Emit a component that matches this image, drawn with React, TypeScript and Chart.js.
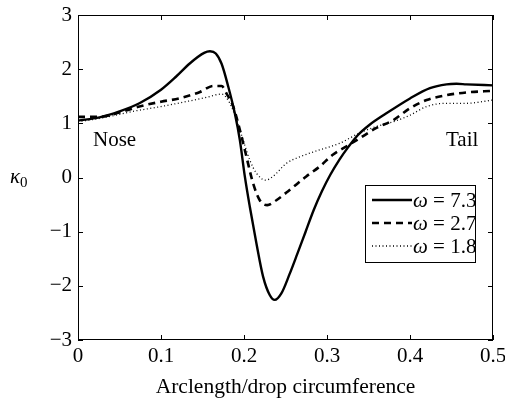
import React, { useEffect, useRef } from "react";
import { Chart, registerables } from "chart.js";

Chart.register(...registerables);

// ω = 7.3 (solid)
const xSolid = [0, 0.026, 0.05, 0.074, 0.1, 0.118, 0.135, 0.152, 0.159, 0.166, 0.173, 0.181, 0.189, 0.195, 0.201, 0.207, 0.215, 0.223, 0.231, 0.237, 0.245, 0.255, 0.264, 0.274, 0.284, 0.294, 0.304, 0.315, 0.326, 0.337, 0.351, 0.371, 0.4, 0.424, 0.444, 0.456, 0.468, 0.5];
const ySolid = [1.05, 1.11, 1.22, 1.37, 1.62, 1.86, 2.11, 2.3, 2.33, 2.29, 2.1, 1.68, 1.18, 0.69, 0.02, -0.54, -1.22, -1.83, -2.17, -2.26, -2.14, -1.78, -1.42, -1.01, -0.6, -0.25, 0.05, 0.33, 0.57, 0.78, 0.97, 1.18, 1.46, 1.65, 1.72, 1.73, 1.72, 1.7];

// ω = 2.7 (dashed)
const xDashed = [0, 0.026, 0.05, 0.074, 0.1, 0.122, 0.147, 0.163, 0.173, 0.179, 0.187, 0.195, 0.203, 0.211, 0.219, 0.228, 0.239, 0.255, 0.275, 0.291, 0.307, 0.323, 0.339, 0.359, 0.38, 0.4, 0.42, 0.444, 0.468, 0.5];
const yDashed = [1.12, 1.12, 1.2, 1.31, 1.4, 1.46, 1.58, 1.69, 1.69, 1.55, 1.31, 0.88, 0.38, -0.11, -0.42, -0.51, -0.42, -0.23, 0.02, 0.2, 0.42, 0.57, 0.72, 0.91, 1.06, 1.28, 1.43, 1.52, 1.57, 1.6];

// ω = 1.8 (dotted)
const xDotted = [0, 0.026, 0.066, 0.1, 0.13, 0.155, 0.173, 0.183, 0.191, 0.199, 0.207, 0.215, 0.226, 0.235, 0.251, 0.267, 0.291, 0.315, 0.339, 0.359, 0.38, 0.4, 0.42, 0.444, 0.468, 0.5];
const yDotted = [1.03, 1.09, 1.22, 1.31, 1.4, 1.48, 1.54, 1.37, 1.06, 0.69, 0.32, 0.08, -0.05, 0.02, 0.26, 0.38, 0.51, 0.63, 0.82, 0.94, 1.03, 1.15, 1.31, 1.37, 1.37, 1.43];

const seriesLabels = ["ω = 7.3", "ω = 2.7", "ω = 1.8"];
const xTicks = [0, 0.1, 0.2, 0.3, 0.4, 0.5];
const yTicks = [-3, -2, -1, 0, 1, 2, 3];
const xTitle = "Arclength/drop circumference";
const noseLabel = "Nose";
const tailLabel = "Tail";

const FONT = "'Liberation Serif', 'Times New Roman', serif";

const styles = [
  { width: 2.4, dash: [] as number[] },
  { width: 2.6, dash: [7, 5] },
  { width: 1.3, dash: [1, 2.5] },
];

const framePlugin = {
  id: "frame",
  afterDraw(chart: any) {
    const ctx = chart.ctx as CanvasRenderingContext2D;
    const { left, right, top, bottom } = chart.chartArea;
    const xs = chart.scales.x;
    const ys = chart.scales.y;
    ctx.save();
    ctx.strokeStyle = "#000";
    ctx.lineWidth = 1;
    ctx.setLineDash([]);
    ctx.strokeRect(left + 0.5, top + 0.5, right - left - 1, bottom - top - 1);
    const tl = 5;
    ctx.beginPath();
    xTicks.forEach((v) => {
      const px = Math.round(xs.getPixelForValue(v)) + 0.5;
      ctx.moveTo(px, bottom);
      ctx.lineTo(px, bottom - tl);
      ctx.moveTo(px, top);
      ctx.lineTo(px, top + tl);
    });
    yTicks.forEach((v) => {
      const py = Math.round(ys.getPixelForValue(v)) + 0.5;
      ctx.moveTo(left, py);
      ctx.lineTo(left + tl, py);
      ctx.moveTo(right, py);
      ctx.lineTo(right - tl, py);
    });
    ctx.stroke();

    // annotations
    ctx.fillStyle = "#000";
    ctx.font = `21px ${FONT}`;
    ctx.textBaseline = "alphabetic";
    ctx.textAlign = "left";
    ctx.fillText(noseLabel, 93, 146);
    ctx.fillText(tailLabel, 446, 146);

    // y-axis label κ0
    ctx.font = `italic 21px ${FONT}`;
    ctx.fillText("κ", 10, 183);
    const kw = ctx.measureText("κ").width;
    ctx.font = `15px ${FONT}`;
    ctx.fillText("0", 10 + kw, 187);

    // legend
    const lx = 365, ly = 185, lw = 110, lh = 77;
    ctx.fillStyle = "#fff";
    ctx.fillRect(lx, ly, lw, lh);
    ctx.strokeStyle = "#000";
    ctx.lineWidth = 1;
    ctx.strokeRect(lx + 0.5, ly + 0.5, lw, lh);
    const rows = [200, 223, 246];
    seriesLabels.forEach((lab, i) => {
      ctx.save();
      ctx.lineWidth = styles[i].width;
      ctx.setLineDash(styles[i].dash);
      ctx.beginPath();
      ctx.moveTo(372, rows[i]);
      ctx.lineTo(412, rows[i]);
      ctx.stroke();
      ctx.restore();
      const [w, rest] = lab.split(" = ");
      ctx.fillStyle = "#000";
      ctx.font = `italic 21px ${FONT}`;
      ctx.fillText(w, 413, rows[i] + 7);
      const ww = ctx.measureText(w).width;
      ctx.font = `21px ${FONT}`;
      ctx.fillText(" = " + rest, 413 + ww, rows[i] + 7);
    });
    ctx.restore();
  },
};

export default function App() {
  const ref = useRef<HTMLCanvasElement>(null);
  useEffect(() => {
    if (!ref.current) return;
    const mk = (xs: number[], ys: number[]) => xs.map((x, i) => ({ x, y: ys[i] }));
    const series = [mk(xSolid, ySolid), mk(xDashed, yDashed), mk(xDotted, yDotted)];
    const chart = new Chart(ref.current, {
      type: "line",
      data: {
        datasets: series.map((d, i) => ({
          label: seriesLabels[i],
          data: d,
          borderColor: "#000",
          borderWidth: styles[i].width,
          borderDash: styles[i].dash,
          pointRadius: 0,
          fill: false,
          cubicInterpolationMode: "monotone" as const,
        })),
      },
      options: {
        animation: false,
        responsive: false,
        layout: { padding: { left: 0, right: 12, top: 15, bottom: 0 } },
        plugins: { legend: { display: false }, tooltip: { enabled: false } },
        scales: {
          x: {
            type: "linear",
            min: 0,
            max: 0.5,
            grid: { display: false, drawTicks: false },
            border: { display: false },
            afterBuildTicks: (s: any) => {
              s.ticks = xTicks.map((v) => ({ value: v }));
            },
            ticks: {
              color: "#000",
              font: { family: FONT, size: 21 },
              padding: 4,
              maxRotation: 0,
              callback: (v: any) => String(v),
            },
            title: {
              display: true,
              text: xTitle,
              color: "#000",
              font: { family: FONT, size: 21.5 },
              padding: { top: 2, bottom: 0 },
            },
            afterFit: (s: any) => {
              s.height = 60;
              s.paddingLeft = 0;
              s.paddingRight = 0;
            },
          },
          y: {
            type: "linear",
            min: -3,
            max: 3,
            grid: { display: false, drawTicks: false },
            border: { display: false },
            afterBuildTicks: (s: any) => {
              s.ticks = yTicks.map((v) => ({ value: v }));
            },
            ticks: {
              color: "#000",
              font: { family: FONT, size: 21 },
              padding: 6,
              callback: (v: any) => String(v).replace("-", "\u2212"),
            },
            afterFit: (s: any) => {
              s.width = 78;
              s.paddingTop = 0;
              s.paddingBottom = 0;
            },
          },
        },
      },
      plugins: [framePlugin],
    });
    return () => chart.destroy();
  }, []);
  return (
    <div style={{ position: "absolute", left: 0, top: 0, width: 505, height: 400, background: "#fff" }}>
      <canvas ref={ref} width={505} height={400} style={{ display: "block" }} />
    </div>
  );
}
